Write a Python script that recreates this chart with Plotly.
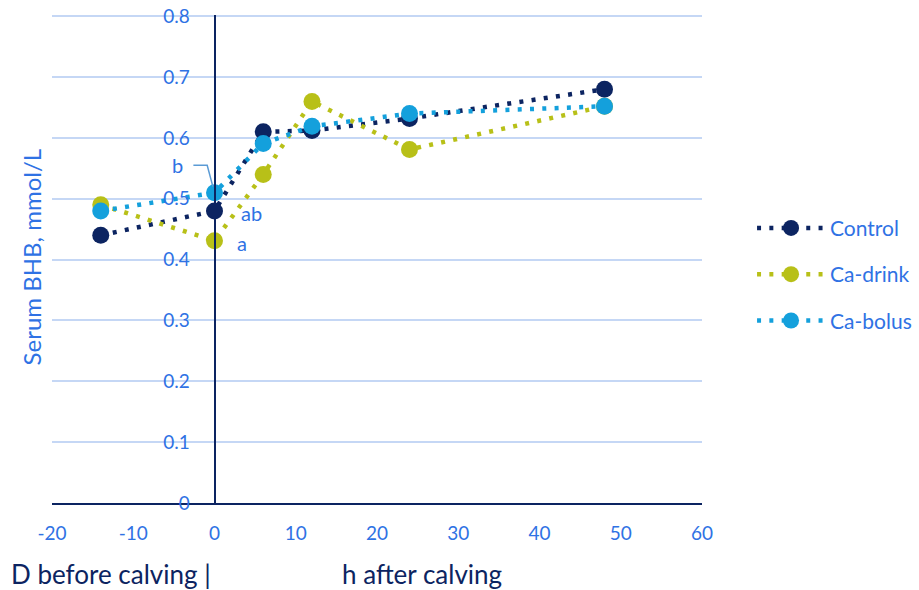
import plotly.graph_objects as go

hours = [-14, 0, 6, 12, 24, 48]
control = [0.44, 0.48, 0.61, 0.612, 0.632, 0.68]
ca_drink = [0.49, 0.431, 0.54, 0.66, 0.581, 0.652]
ca_bolus = [0.48, 0.51, 0.591, 0.619, 0.64, 0.652]
series_names = ["Control", "Ca-drink", "Ca-bolus"]
series_colors = ["#0c2461", "#b8c018", "#14a0dc"]
x_ticks = [-20, -10, 0, 10, 20, 30, 40, 50, 60]
x_tick_text = ["-20", "-10", "0", "10", "20", "30", "40", "50", "60"]
y_ticks = [0, 0.1, 0.2, 0.3, 0.4, 0.5, 0.6, 0.7, 0.8]
y_tick_text = ["0", "0.1", "0.2", "0.3", "0.4", "0.5", "0.6", "0.7", "0.8"]

FONT = "Lato, Carlito, Calibri, sans-serif"
BLUE = "#2f72e4"
NAVY = "#0c2461"

fig = go.Figure()
for name, vals, col in zip(series_names, [control, ca_drink, ca_bolus], series_colors):
    fig.add_trace(go.Scatter(
        x=hours, y=vals, name=name, mode="lines+markers",
        line=dict(color=col, width=4.5, dash="4px,8.3px"),
        marker=dict(color=col, size=17),
        cliponaxis=False, legendgroup=name,
    ))

# leader line for "b"
fig.add_shape(type="path", xref="x", yref="y",
              path="M -2.6,0.555 L -0.9,0.555 L -0.2,0.52",
              line=dict(color="#5b9bd5", width=1.5))

fig.add_annotation(x=-4.6, y=0.555, text="b", showarrow=False, xref="x", yref="y",
                   font=dict(family=FONT, size=20, color=BLUE))
fig.add_annotation(x=4.5, y=0.476, text="ab", showarrow=False, xref="x", yref="y",
                   font=dict(family=FONT, size=20, color=BLUE))
fig.add_annotation(x=3.4, y=0.428, text="a", showarrow=False, xref="x", yref="y",
                   font=dict(family=FONT, size=20, color=BLUE))

fig.add_annotation(x=-0.066, y=-0.146, xref="paper", yref="paper", xanchor="left", yanchor="middle",
                   text="D before calving |", showarrow=False,
                   font=dict(family=FONT, size=26, color=NAVY))
fig.add_annotation(x=0.443, y=-0.146, xref="paper", yref="paper", xanchor="left", yanchor="middle",
                   text="h after calving", showarrow=False,
                   font=dict(family=FONT, size=26, color=NAVY))
fig.add_annotation(x=-0.031, y=0.505, xref="paper", yref="paper", xanchor="center", yanchor="middle",
                   text="Serum BHB, mmol/L", showarrow=False, textangle=-90,
                   font=dict(family=FONT, size=24, color=BLUE))

fig.update_layout(
    width=919, height=590,
    margin=dict(l=52, r=217, t=15, b=87, autoexpand=False),
    plot_bgcolor="white", paper_bgcolor="white",
    font=dict(family=FONT, color=BLUE),
    legend=dict(x=1.077, y=0.605, xanchor="left", yanchor="top",
                font=dict(family=FONT, size=21, color=BLUE),
                itemwidth=68, tracegroupgap=16, traceorder="grouped",
                bgcolor="rgba(0,0,0,0)"),
    xaxis=dict(range=[-20, 60], tickvals=x_ticks, ticktext=x_tick_text,
               showgrid=False, zeroline=False, automargin=False,
               showline=True, linecolor=NAVY, linewidth=2,
               tickfont=dict(family=FONT, size=19, color=BLUE),
               ticks="", ticklabelstandoff=12),
    yaxis=dict(range=[0, 0.802], tickvals=y_ticks, ticktext=y_tick_text,
               anchor="free", position=0.25, showgrid=True, gridcolor="#c5d7f5", gridwidth=2,
               zeroline=False, showline=True, linecolor=NAVY, linewidth=2, automargin=False,
               tickfont=dict(family=FONT, size=19, color=BLUE),
               ticks="", ticklabelstandoff=20),
)

fig.write_html("out.html")
